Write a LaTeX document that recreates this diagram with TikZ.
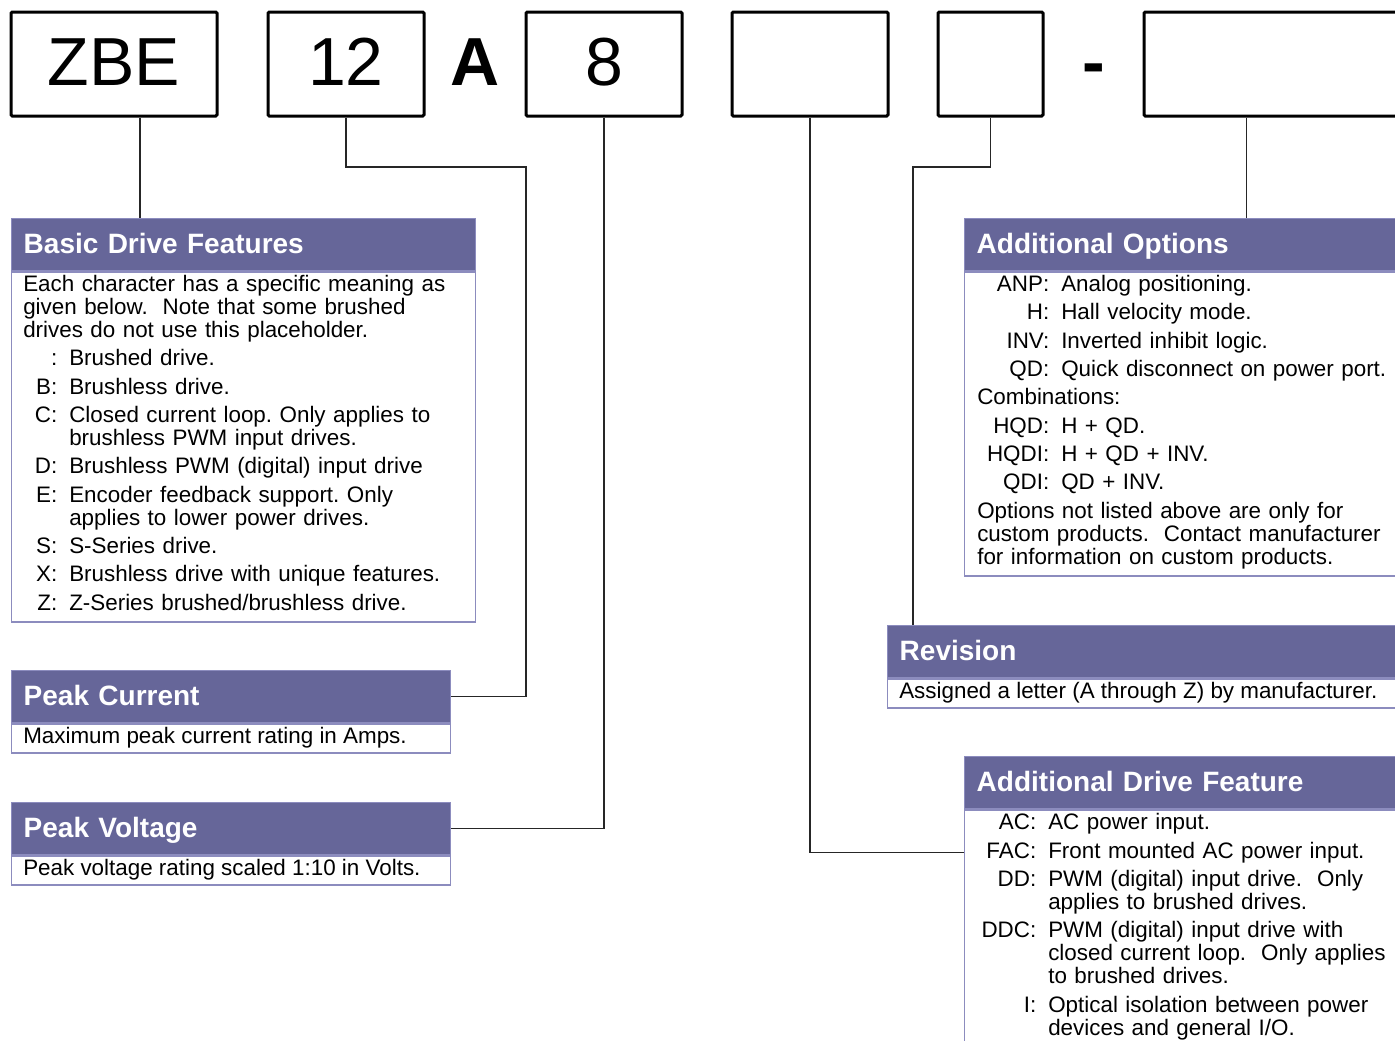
\documentclass[tikz,border=0pt]{standalone}
\usepackage{fontspec}
\setmainfont{Liberation Sans}
\usetikzlibrary{positioning, calc}

\definecolor{hdrfill}{RGB}{102,102,153}
\definecolor{panelline}{RGB}{140,140,190}

\newlength{\lblwd}
\newcommand{\topfont}{\fontsize{51}{60}\selectfont}
\newcommand{\hdrfont}{\fontsize{21}{24}\selectfont\bfseries}
\newcommand{\bodyfont}{\fontsize{16.8}{17.25}\selectfont}
\newcommand{\bodyset}[1]{\bodyfont\frenchspacing\raggedright\setlength{\parskip}{4.0pt}\setlength{\lblwd}{#1}}
% one coded entry: right-aligned code, hanging description
\newcommand{\code}[2]{\hangindent=\lblwd\hangafter=1\noindent\makebox[\lblwd][r]{#1:\hspace{9pt}}#2\par}

\begin{document}
\begin{tikzpicture}[
    x=0.75pt, y=-0.75pt,
    topbox/.style={draw=black, line width=2.25pt, rounded corners=1pt, fill=white, minimum height=78pt, inner sep=0pt, font=\topfont, text height=37.5pt, text depth=6pt},
    hdr/.style={draw=panelline, line width=1.1pt, fill=hdrfill, text=white, font=\hdrfont, anchor=north west, minimum height=39pt, inner xsep=9pt, inner ysep=0pt, text depth=1.5pt, align=left},
    panel/.style={draw=panelline, line width=1.1pt, fill=white, anchor=north west, inner sep=0pt},
    txt/.style={anchor=base west, inner sep=0pt, font=\bodyfont},
    link/.style={draw=black!85, line width=1pt}
]
    \useasboundingbox (0,0) rectangle (1395,1040);
    \clip (0,0) rectangle (1395,1040);

    % part number boxes
    \node (zbe) [topbox, minimum width=154.5pt] at (114,64) {ZBE};
    \node (twelve) [topbox, minimum width=117pt] at (346,64) {12};
    \node (amp) [anchor=base, inner sep=0pt, font=\topfont\bfseries] at (475,85) {A};
    \node (eight) [topbox, minimum width=117pt] at (604,64) {8};
    \node (featbox) [topbox, minimum width=117pt] at (810,64) {};
    \node (revbox) [topbox, minimum width=78.75pt] at (990.5,64) {};
    \node (dash) [anchor=base, inner sep=0pt, font=\topfont\bfseries] at (1094,85) {-};
    \node (optbox) [topbox, minimum width=214.5pt] at (1287,64) {};

    % left panels
    \node (basichd) [hdr, text width=330pt] at (11,218) {Basic Drive Features};
    \node (basicbody) [panel, minimum width=348pt, minimum height=262.5pt] at (basichd.south west) {};
    \node (basictxt) [txt, text width=337.5pt] at ($(basicbody.north west)+(12,20)$) {\bodyset{34.5pt}Each character has a specific meaning as\newline given below.\ \ Note that some brushed\newline drives do not use this placeholder.\par
        \code{}{Brushed drive.}
        \code{B}{Brushless drive.}
        \code{C}{Closed current loop. Only applies to\newline brushless PWM input drives.}
        \code{D}{Brushless PWM (digital) input drive}
        \code{E}{Encoder feedback support. Only\newline applies to lower power drives.}
        \code{S}{S-Series drive.}
        \code{X}{Brushless drive with unique features.}
        \code{Z}{Z-Series brushed/brushless drive.}};

    \node (curhd) [hdr, text width=311.25pt] at (11,670) {Peak Current};
    \node (curbody) [panel, minimum width=329.25pt, minimum height=21.75pt] at (curhd.south west) {};
    \node (curtxt) [txt] at ($(curbody.north west)+(12,20)$) {Maximum peak current rating in Amps.};

    \node (volthd) [hdr, text width=311.25pt] at (11,802) {Peak Voltage};
    \node (voltbody) [panel, minimum width=329.25pt, minimum height=21.75pt] at (volthd.south west) {};
    \node (volttxt) [txt] at ($(voltbody.north west)+(12,20)$) {Peak voltage rating scaled 1:10 in Volts.};

    % right panels
    \node (opthd) [hdr, text width=324pt] at (964,218) {Additional Options};
    \node (optbody) [panel, minimum width=342pt, minimum height=228pt] at (opthd.south west) {};
    \node (opttxt) [txt, text width=330pt] at ($(optbody.north west)+(13,20)$) {\bodyset{63pt}%
        \code{ANP}{Analog positioning.}
        \code{H}{Hall velocity mode.}
        \code{INV}{Inverted inhibit logic.}
        \code{QD}{Quick disconnect on power port.}
        Combinations:\par
        \code{HQD}{H + QD.}
        \code{HQDI}{H + QD + INV.}
        \code{QDI}{QD + INV.}
        Options not listed above are only for\newline custom products.\ \ Contact manufacturer\newline for information on custom products.};

    \node (revhd) [hdr, text width=381.75pt] at (887,625) {Revision};
    \node (revbody) [panel, minimum width=399.75pt, minimum height=21.75pt] at (revhd.south west) {};
    \node (revtxt) [txt] at ($(revbody.north west)+(12,20)$) {Assigned a letter (A through Z) by manufacturer.};

    \node (drvhd) [hdr, text width=324pt] at (964,756) {Additional Drive Feature};
    \node (drvbody) [panel, minimum width=342pt, minimum height=195pt] at (drvhd.south west) {};
    \node (drvtxt) [txt, text width=330pt] at ($(drvbody.north west)+(13,20.5)$) {\bodyset{53.25pt}%
        \code{AC}{AC power input.}
        \code{FAC}{Front mounted AC power input.}
        \code{DD}{PWM (digital) input drive.\ \ Only\newline applies to brushed drives.}
        \code{DDC}{PWM (digital) input drive with\newline closed current loop.\ \ Only applies\newline to brushed drives.}
        \code{I}{Optical isolation between power\newline devices and general I/O.}};

    % leader lines
    \coordinate (bend12) at (526,167);
    \coordinate (bendrev) at (913,167);
    \draw [link] ($(zbe.south)+(26,0)$) coordinate (zbetap) -- (zbetap |- basichd.north);
    \draw [link] (twelve.south) |- (bend12) |- (curhd.east);
    \draw [link] (eight.south) |- (volthd.east);
    \draw [link] (featbox.south) |- ($(drvbody.north west)+(0,43)$);
    \draw [link] (revbox.south) |- (bendrev) -- (bendrev |- revhd.north);
    \draw [link] ($(optbox.south west)+(104,0)$) coordinate (opttap) -- (opttap |- opthd.north);
\end{tikzpicture}
\end{document}
